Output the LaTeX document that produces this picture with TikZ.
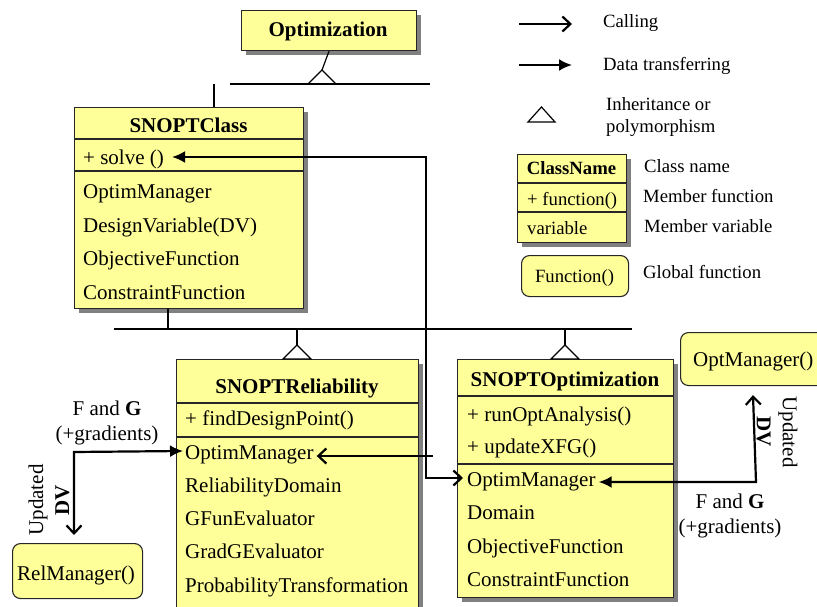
\documentclass[tikz,border=0pt]{standalone}
\usepackage{fontspec}
\setmainfont{Liberation Serif}
\usetikzlibrary{arrows.meta,shadows}
\definecolor{clsfill}{HTML}{FFFF99}
\tikzset{
  calltip/.tip={Straight Barb[length=8pt,width=15pt]},
  datatip/.tip={Latex[length=13pt,width=12pt]},
  box/.style={draw=black!85, line width=1.1pt, fill=clsfill, inner sep=0pt, anchor=north west},
  shadowed/.style={drop shadow={shadow xshift=4pt, shadow yshift=-4pt, fill=black!50, opacity=1}},
  gbox/.style={box, rounded corners=8pt},
  txt/.style={font=\fontsize{21}{25}\selectfont, inner sep=0pt, anchor=base west},
  ttl/.style={font=\fontsize{21}{25}\selectfont\bfseries, inner sep=0pt, anchor=base},
  lg/.style={font=\fontsize{18.7}{23}\selectfont, inner sep=0pt, anchor=base west},
  lgt/.style={font=\fontsize{18.7}{23}\selectfont\bfseries, inner sep=0pt, anchor=base},
  div/.style={draw=black!85, line width=1.1pt},
  inh/.style={line width=1.2pt},
  conn/.style={line width=2.2pt},
  lbl/.style={font=\fontsize{21}{25}\selectfont, inner sep=0pt, anchor=base},
  rlbl/.style={font=\fontsize{21}{26}\selectfont, inner sep=0pt, align=center}
}
\begin{document}
\begin{tikzpicture}[x=1pt,y=-1pt]
\useasboundingbox (0,0) rectangle (817,607);
\begin{scope}
\clip (0,0) rectangle (817,607);

% ---------- Optimization ----------
\node[box,shadowed,minimum width=175pt,minimum height=40pt] (opt) at (241,10) {};
\node[ttl] (opt-t) at (328,37) {Optimization};

% ---------- SNOPTClass ----------
\node[box,shadowed,minimum width=229pt,minimum height=201pt] (sc) at (74,107) {};
\node[ttl] (sc-t) at (188.5,133) {SNOPTClass};
\draw[div] (sc.west |- 0,139) -- (sc.east |- 0,139);
\draw[div] (sc.west |- 0,171) -- (sc.east |- 0,171);
\node[txt] (sc-solve) at (83,165) {+ solve ()};
\node[txt] (sc-om) at (83,199) {OptimManager};
\node[txt] (sc-dv) at (83,232) {DesignVariable(DV)};
\node[txt] (sc-of) at (83,265) {ObjectiveFunction};
\node[txt] (sc-cf) at (83,299) {ConstraintFunction};

% ---------- SNOPTReliability ----------
\node[box,shadowed,minimum width=242pt,minimum height=270pt] (rel) at (176,359) {};
\node[ttl] (rel-t) at (297,393) {SNOPTReliability};
\draw[div] (rel.west |- 0,403) -- (rel.east |- 0,403);
\draw[div] (rel.west |- 0,437) -- (rel.east |- 0,437);
\node[txt] (rel-fd) at (185,425) {+ findDesignPoint()};
\node[txt] (rel-om) at (185,459) {OptimManager};
\node[txt] (rel-rd) at (185,492) {ReliabilityDomain};
\node[txt] (rel-gf) at (185,525) {GFunEvaluator};
\node[txt] (rel-gg) at (185,558) {GradGEvaluator};
\node[txt] (rel-pt) at (185,592) {ProbabilityTransformation};

% ---------- SNOPTOptimization ----------
\node[box,shadowed,minimum width=216pt,minimum height=238pt] (so) at (457,359) {};
\node[ttl] (so-t) at (565,386) {SNOPTOptimization};
\draw[div] (so.west |- 0,396) -- (so.east |- 0,396);
\draw[div] (so.west |- 0,464) -- (so.east |- 0,464);
\node[txt] (so-ro) at (467,421) {+ runOptAnalysis()};
\node[txt] (so-ux) at (467,453) {+ updateXFG()};
\node[txt] (so-om) at (467,486) {OptimManager};
\node[txt] (so-dm) at (467,519) {Domain};
\node[txt] (so-of) at (467,553) {ObjectiveFunction};
\node[txt] (so-cf) at (467,586) {ConstraintFunction};

% ---------- global functions ----------
\node[gbox,minimum width=160pt,minimum height=53pt] (om) at (680,332) {};
\node[txt] (om-t) at (693,366) {OptManager()};
\node[gbox,minimum width=130pt,minimum height=55pt] (rm) at (12,543) {};
\node[txt] (rm-t) at (17,580) {RelManager()};

% ---------- inheritance ----------
\coordinate (apex1) at (322,70);
\draw[inh] (opt.south) -- (apex1);
\draw[inh,fill=white] (apex1) -- (308,84) -- (336,84) -- cycle;
\coordinate (h1l) at (230,84);
\coordinate (h1r) at (430,84);
\draw[inh] (h1l) -- (h1r);
\draw[inh] (sc.north -| 214,0) -- (214,84);

\coordinate (h2l) at (114,329);
\coordinate (h2r) at (632,329);
\draw[inh] (h2l) -- (h2r);
\draw[inh] (sc.south -| 168,0) -- (168,329);
\coordinate (apex2) at (297,345);
\draw[inh] (297,329) -- (apex2);
\draw[inh,fill=white] (apex2) -- (283,359) -- (311,359) -- cycle;
\coordinate (apex3) at (565,345);
\draw[inh] (565,329) -- (apex3);
\draw[inh,fill=white] (apex3) -- (551,359) -- (579,359) -- cycle;

% ---------- connectors ----------
\coordinate (bus) at (430,0);
\draw[conn,{datatip}-{calltip}] ([xshift=8pt,yshift=8pt]sc-solve.base east)
   -| ([xshift=-4pt,yshift=8pt]so-om.base west -| bus) -- ([xshift=-4pt,yshift=8pt]so-om.base west);
\draw[conn,-{calltip}] ([xshift=3pt,yshift=3pt]rel-om.base east -| bus) -- ([xshift=3pt,yshift=3pt]rel-om.base east);

\coordinate (lcorner) at (74,452);
\draw[conn,{calltip}-{datatip}] ([yshift=8pt]rm.north -| lcorner) -- (lcorner) -- ([xshift=-2pt,yshift=8pt]rel-om.base west);
\coordinate (rcorner) at (753,482);
\draw[conn,{datatip}-{calltip}] ([xshift=3pt,yshift=4pt]so-om.base east) -- ([xshift=3pt,yshift=4pt]so-om.base east -| rcorner) -- ([yshift=-9pt]om.south -| rcorner);

\node[lbl] (fgl1) at (107,415) {F and \textbf{G}};
\node[lbl] (fgl2) at (107,440) {(+gradients)};
\node[rlbl,rotate=90] (udl) at (49,500) {Updated\\\textbf{DV}};
\node[lbl] (fgr1) at (730,508) {F and \textbf{G}};
\node[lbl] (fgr2) at (730,533) {(+gradients)};
\node[rlbl,rotate=-90] (udr) at (777,432) {Updated\\\textbf{DV}};

% ---------- legend ----------
\coordinate (lc1) at (519,24);
\coordinate (lc2) at (572,24);
\draw[conn,-{calltip}] (lc1) -- (lc2);
\node[lg] (lg-call) at (603,28) {Calling};
\coordinate (ld1) at (519,65);
\coordinate (ld2) at (572,65);
\draw[conn,-{datatip}] (ld1) -- (ld2);
\node[lg] (lg-data) at (603,71) {Data transferring};
\draw[inh] (528,122) -- (541.5,107) -- (555,122) -- cycle;
\node[lg] (lg-inh1) at (606,111) {Inheritance or};
\node[lg] (lg-inh2) at (606,133) {polymorphism};

\node[box,shadowed,minimum width=109pt,minimum height=88pt] (lgc) at (517,154) {};
\draw[div] (lgc.west |- 0,183) -- (lgc.east |- 0,183);
\draw[div] (lgc.west |- 0,212) -- (lgc.east |- 0,212);
\node[lgt] (lgc-t) at (571.5,175) {ClassName};
\node[lg] (lgc-f) at (527,205) {+ function()};
\node[lg] (lgc-v) at (527,234) {variable};
\node[lg] (lg-cn) at (644,172) {Class name};
\node[lg] (lg-mf) at (643,203) {Member function};
\node[lg] (lg-mv) at (644,233) {Member variable};

\node[gbox,minimum width=107pt,minimum height=41pt] (lgf) at (521,255) {};
\node[lg,anchor=base] (lgf-t) at (574.5,282) {Function()};
\node[lg] (lg-gf) at (643,278) {Global function};
\end{scope}
\end{tikzpicture}
\end{document}
